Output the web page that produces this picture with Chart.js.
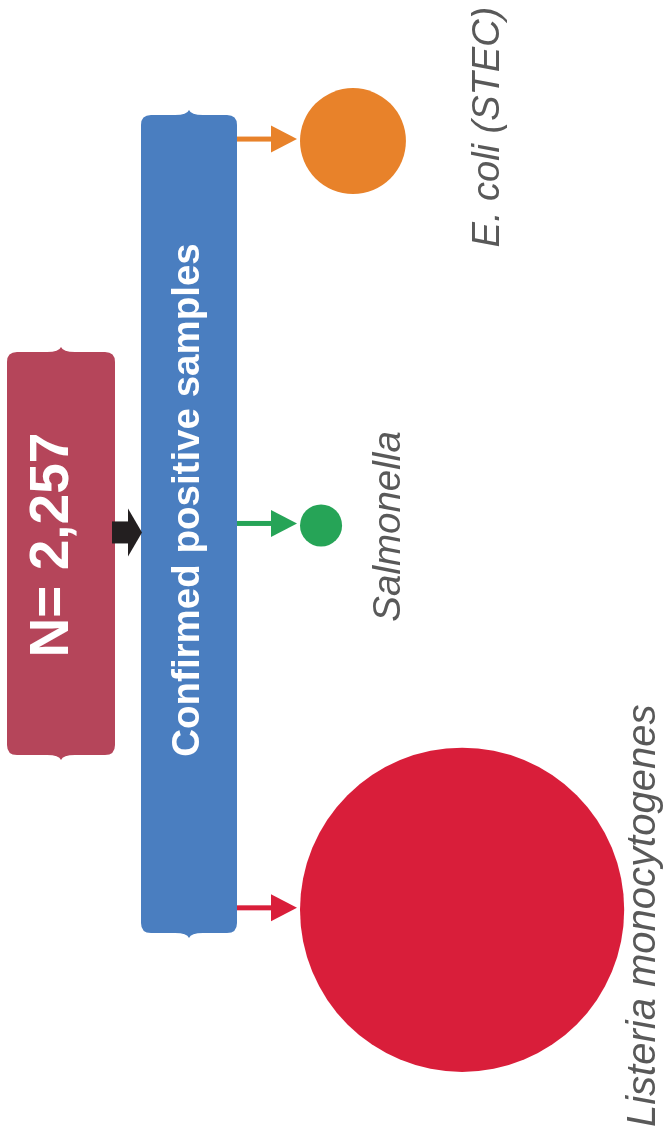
<!DOCTYPE html>
<html>
<head>
<meta charset="utf-8">
<title>Confirmed positive samples</title>
<script src="https://cdn.jsdelivr.net/npm/chart.js@4/dist/chart.umd.min.js"></script>
<style>
  html, body { margin: 0; padding: 0; background: #fff; }
  #wrap { width: 670px; height: 1132px; position: relative; }
</style>
</head>
<body>
<div id="wrap"><canvas id="flow"></canvas></div>
<script>
// pathogens found among the confirmed positives (top to bottom)
var categories = ['E. coli (STEC)', 'Salmonella', 'Listeria monocytogenes'];
// estimated number of positive samples per pathogen (bubble area)
var positives = [19, 3, 178];
var bubbleColors = ['#E8822A', '#26A457', '#D91E3A'];
var totalLabel = 'N= 2,257';
var boxLabel = 'Confirmed positive samples';

// bubble area proportional to the count
function bubbleRadius(n) {
  return 12.15 * Math.sqrt(n);
}

// fixed pieces of the flow diagram
var layout = {
  totalBox: { x: 7, y: 352, w: 108, h: 403, notchX: 61, color: '#B5455A' },
  positiveBox: { x: 141, y: 115, w: 96, h: 818, notchX: 189, color: '#4A7EC0' },
  gap: 3,
  // label baseline distance from bubble edge, shift along the column, font size
  labelOffset: [93, 58, 31],
  labelShift: [-14, 1, 6],
  labelSize: [38, 38.5, 40]
};

function notchedBox(ctx, b) {
  var x = b.x, y = b.y, w = b.w, h = b.h, r = 10, n = 5, nx = b.notchX;
  ctx.beginPath();
  ctx.moveTo(x + r, y);
  ctx.lineTo(nx - 14, y);
  ctx.quadraticCurveTo(nx - 2, y, nx, y - n);
  ctx.quadraticCurveTo(nx + 2, y, nx + 14, y);
  ctx.lineTo(x + w - r, y);
  ctx.quadraticCurveTo(x + w, y, x + w, y + r);
  ctx.lineTo(x + w, y + h - r);
  ctx.quadraticCurveTo(x + w, y + h, x + w - r, y + h);
  ctx.lineTo(nx + 14, y + h);
  ctx.quadraticCurveTo(nx + 2, y + h, nx, y + h + n);
  ctx.quadraticCurveTo(nx - 2, y + h, nx - 14, y + h);
  ctx.lineTo(x + r, y + h);
  ctx.quadraticCurveTo(x, y + h, x, y + h - r);
  ctx.lineTo(x, y + r);
  ctx.quadraticCurveTo(x, y, x + r, y);
  ctx.closePath();
  ctx.fillStyle = b.color;
  ctx.fill();
}

function arrow(ctx, x0, x1, y, shaft, headLen, headHalf, color) {
  ctx.fillStyle = color;
  ctx.fillRect(x0, y - shaft / 2, x1 - headLen - x0, shaft);
  ctx.beginPath();
  ctx.moveTo(x1 - headLen, y - headHalf);
  ctx.lineTo(x1, y);
  ctx.lineTo(x1 - headLen, y + headHalf);
  ctx.closePath();
  ctx.fill();
}

function verticalText(ctx, text, x, y, font, color) {
  ctx.save();
  ctx.translate(x, y);
  ctx.rotate(-Math.PI / 2);
  ctx.font = font;
  ctx.fillStyle = color;
  ctx.textAlign = 'center';
  ctx.textBaseline = 'alphabetic';
  ctx.fillText(text, 0, 0);
  ctx.restore();
}

var flowPlugin = {
  id: 'flow',
  afterDatasetsUpdate: function(chart) {
    // hang each bubble off the arrow tip
    var left = chart.chartArea.left;
    chart.getDatasetMeta(0).data.forEach(function(el) {
      el.x = left + layout.gap + el.options.radius;
    });
  },
  beforeDatasetsDraw: function(chart) {
    var ctx = chart.ctx;
    var pts = chart.getDatasetMeta(0).data;
    var tip = chart.chartArea.left;
    var tb = layout.totalBox, pb = layout.positiveBox;
    ctx.save();
    ctx.fillStyle = '#fff';
    ctx.fillRect(0, 0, chart.width, chart.height);

    notchedBox(ctx, tb);
    notchedBox(ctx, pb);

    // total -> confirmed
    arrow(ctx, tb.x + tb.w - 3, pb.x + 1, pts[1].y + 7, 22, 14, 24, '#231F20');

    // confirmed -> each pathogen
    pts.forEach(function(el, i) {
      arrow(ctx, pb.x + pb.w, tip, el.y - 2, 5, 26, 13.5, bubbleColors[i]);
    });

    verticalText(ctx, totalLabel, tb.x + 61, tb.y + 193, 'bold 55px "Liberation Sans", Arial, sans-serif', '#fff');
    verticalText(ctx, boxLabel, pb.x + 58, pb.y + 385, 'bold 38.5px "Liberation Sans", Arial, sans-serif', '#fff');
    ctx.restore();
  },
  afterDatasetsDraw: function(chart) {
    var ctx = chart.ctx;
    chart.getDatasetMeta(0).data.forEach(function(el, i) {
      var bx = el.x + el.options.radius + layout.labelOffset[i];
      verticalText(ctx, categories[i], bx, el.y + layout.labelShift[i],
        'italic ' + layout.labelSize[i] + 'px "Liberation Sans", Arial, sans-serif', '#595959');
    });
  }
};

new Chart(document.getElementById('flow').getContext('2d'), {
  type: 'bubble',
  data: {
    datasets: [{
      label: 'Positive samples',
      data: categories.map(function(c, i) {
        return { x: 0, y: i, r: bubbleRadius(positives[i]) };
      }),
      backgroundColor: bubbleColors,
      borderWidth: 0,
      radius: 0,
      clip: false
    }]
  },
  options: {
    responsive: true,
    maintainAspectRatio: false,
    animation: false,
    events: [],
    layout: { autoPadding: false, padding: { left: 297, right: 0, top: 0, bottom: 0 } },
    scales: {
      x: { type: 'linear', display: false, min: 0, max: 1 },
      // one row per pathogen, first row at the top
      y: { type: 'linear', display: false, reverse: true, min: -0.367, max: 2.578 }
    },
    plugins: {
      legend: { display: false },
      tooltip: { enabled: false }
    }
  },
  plugins: [flowPlugin]
});
</script>
</body>
</html>
